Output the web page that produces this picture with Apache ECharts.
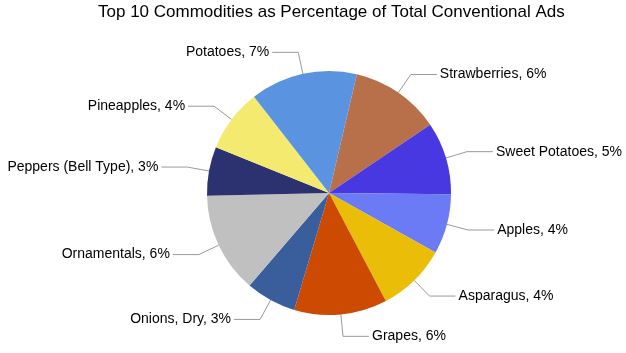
<!DOCTYPE html>
<html>
<head>
<meta charset="utf-8">
<script src="https://cdn.jsdelivr.net/npm/echarts@6/dist/echarts.min.js"></script>
<style>
  html, body { margin: 0; padding: 0; background: #fff; }
  #chart { width: 626px; height: 353px; }
</style>
</head>
<body>
<div id="chart"></div>
<script>
// commodities, clockwise from the top
const commodities = ['Strawberries', 'Sweet Potatoes', 'Apples', 'Asparagus', 'Grapes',
  'Onions, Dry', 'Ornamentals', 'Peppers (Bell Type)', 'Pineapples', 'Potatoes'];
// share of total conventional ads, %
const shares = [5.7, 4.6, 3.8, 4.4, 5.9, 3.2, 6.4, 3.1, 4.0, 6.8];
const sliceColors = ['#B8704A', '#4838E2', '#6B7BF6', '#EABD08', '#CC4A02',
  '#3A5E9C', '#C0C0C0', '#2C3270', '#F4EA70', '#5A93E0'];

const chart = echarts.init(document.getElementById('chart'));

const data = commodities.map((name, i) => ({
  name: name,
  value: shares[i],
  itemStyle: { color: sliceColors[i] }
}));

chart.setOption({
  animation: false,
  title: {
    text: 'Top 10 Commodities as Percentage of Total Conventional Ads',
    left: 93,
    top: -1,
    textStyle: {
      fontFamily: 'Liberation Sans',
      fontSize: 17,
      fontWeight: 'normal',
      color: '#000'
    }
  },
  series: [
    {
      type: 'pie',
      center: [329, 193],
      radius: 122,
      startAngle: 76.8,
      clockwise: true,
      label: {
        show: true,
        formatter: p => p.name + ', ' + Math.round(p.value) + '%',
        fontFamily: 'Liberation Sans',
        fontSize: 14,
        color: '#000',
        overflow: 'none',
        distanceToLabelLine: 3
      },
      labelLine: {
        length: 22,
        length2: 26,
        lineStyle: { color: '#999', width: 1 }
      },
      itemStyle: { borderWidth: 0 },
      emphasis: { disabled: true },
      data: data
    }
  ]
});
</script>
</body>
</html>
